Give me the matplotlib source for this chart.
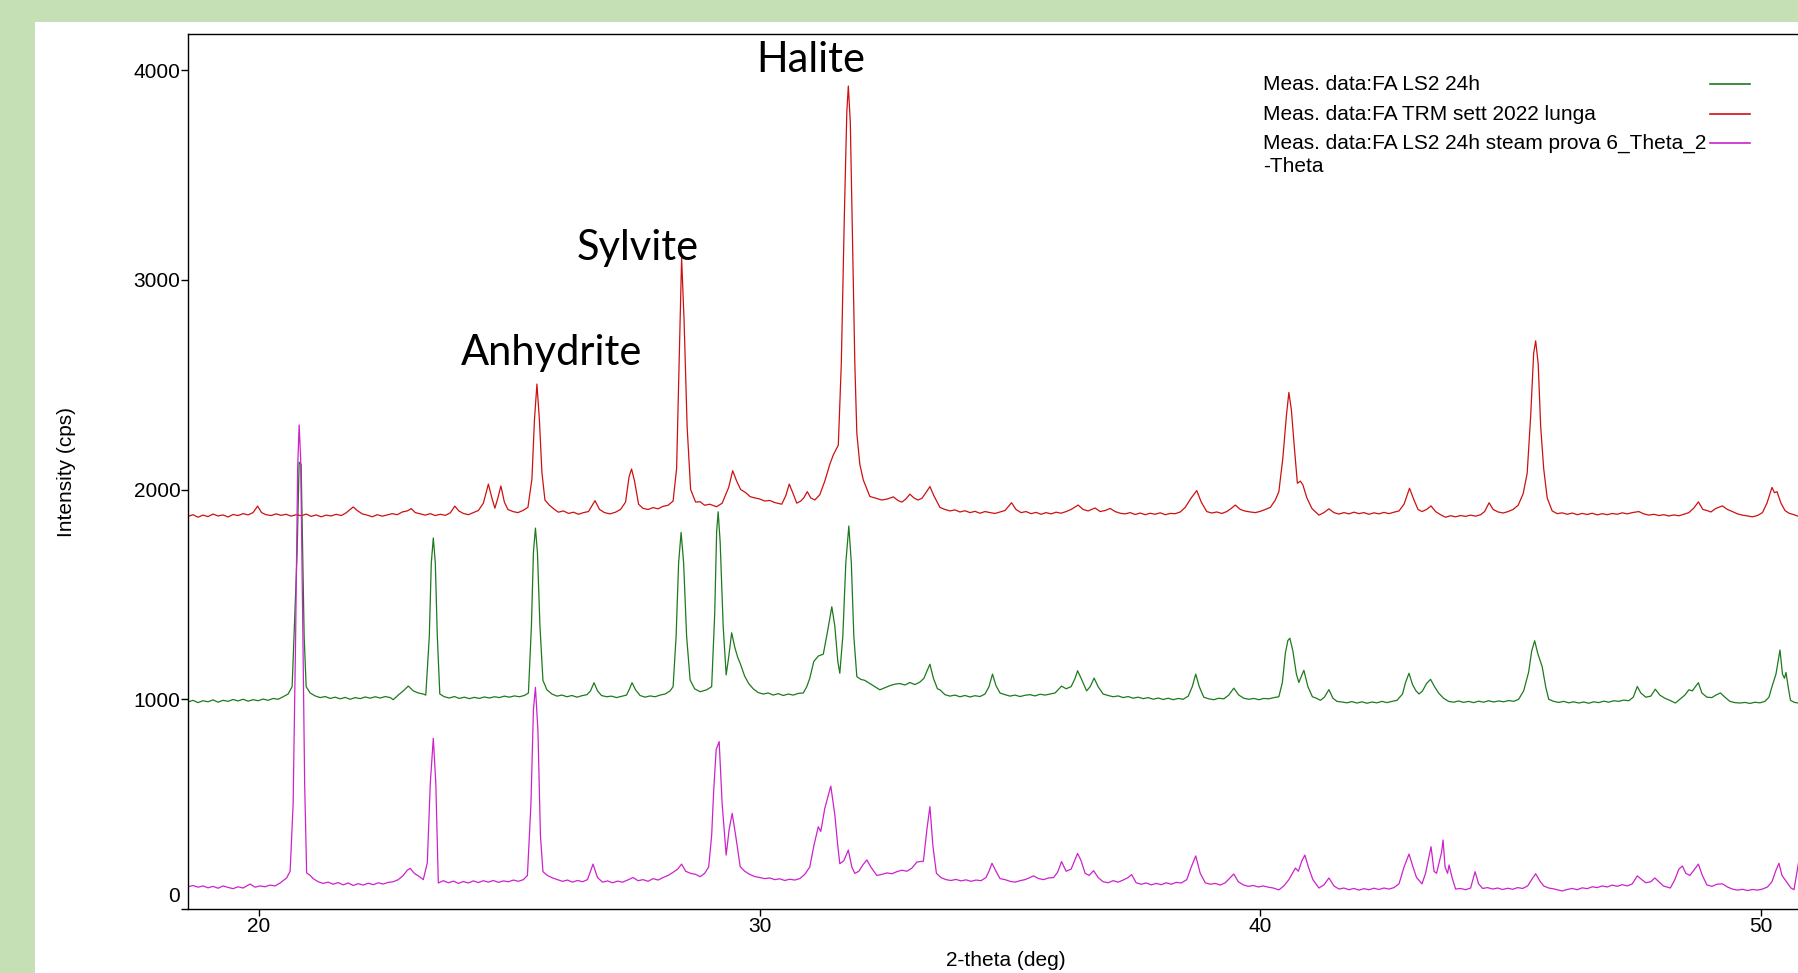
import matplotlib.pyplot as plt
import numpy as np
from matplotlib.patches import Rectangle
from matplotlib.lines import Line2D

plt.rcParams['font.family'] = ['Liberation Sans', 'DejaVu Sans']

# (2-theta deg, intensity cps)
red_pts = [
    (18.58, 1872), (18.68, 1880), (18.78, 1868), (18.88, 1878), (18.98, 1871), (19.08, 1883), (19.18, 1874),
    (19.28, 1879), (19.38, 1869), (19.48, 1881), (19.58, 1876), (19.68, 1885), (19.78, 1879), (19.88, 1890),
    (19.97, 1921), (20.05, 1890), (20.14, 1880), (20.24, 1876), (20.34, 1884), (20.44, 1877), (20.54, 1882),
    (20.64, 1873), (20.74, 1880), (20.84, 1875), (20.94, 1883), (21.04, 1872), (21.14, 1879), (21.24, 1870),
    (21.34, 1878), (21.44, 1874), (21.54, 1882), (21.64, 1876), (21.74, 1889), (21.88, 1917), (21.96, 1900),
    (22.06, 1884), (22.16, 1878), (22.26, 1870), (22.36, 1880), (22.46, 1873), (22.56, 1879), (22.66, 1885),
    (22.76, 1880), (22.86, 1893), (22.96, 1898), (23.04, 1909), (23.12, 1890), (23.22, 1884), (23.32, 1878),
    (23.42, 1885), (23.52, 1876), (23.62, 1882), (23.72, 1877), (23.82, 1889), (23.91, 1921), (23.99, 1898),
    (24.08, 1886), (24.18, 1880), (24.28, 1890), (24.38, 1900), (24.48, 1935), (24.58, 2026), (24.65, 1960),
    (24.71, 1911), (24.77, 1960), (24.83, 2017), (24.90, 1940), (24.97, 1905), (25.07, 1895), (25.17, 1890),
    (25.27, 1900), (25.37, 1915), (25.45, 2050), (25.50, 2330), (25.55, 2503), (25.60, 2330), (25.65, 2080),
    (25.71, 1950), (25.80, 1925), (25.90, 1905), (25.98, 1892), (26.08, 1898), (26.18, 1886), (26.28, 1892),
    (26.38, 1882), (26.48, 1890), (26.58, 1895), (26.71, 1947), (26.80, 1905), (26.90, 1890), (27.01, 1884),
    (27.12, 1892), (27.22, 1905), (27.32, 1940), (27.39, 2060), (27.44, 2098), (27.50, 2040), (27.58, 1930),
    (27.67, 1910), (27.77, 1905), (27.87, 1914), (27.97, 1908), (28.07, 1920), (28.17, 1925), (28.27, 1945),
    (28.34, 2100), (28.40, 2700), (28.44, 3104), (28.49, 2800), (28.55, 2300), (28.62, 2000), (28.72, 1940),
    (28.81, 1942), (28.90, 1925), (29.00, 1930), (29.14, 1918), (29.25, 1935), (29.38, 2010), (29.46, 2090),
    (29.54, 2040), (29.62, 2000), (29.72, 1985), (29.81, 1966), (29.90, 1960), (30.00, 1955), (30.10, 1945),
    (30.20, 1948), (30.30, 1938), (30.44, 1930), (30.52, 1970), (30.59, 2026), (30.66, 1985), (30.74, 1935),
    (30.82, 1945), (30.88, 1960), (30.95, 1990), (31.02, 1960), (31.10, 1950), (31.20, 1975), (31.30, 2040),
    (31.40, 2120), (31.47, 2165), (31.57, 2212), (31.63, 2600), (31.69, 3300), (31.74, 3800), (31.77, 3924),
    (31.81, 3750), (31.86, 3100), (31.90, 2600), (31.94, 2268), (32.00, 2120), (32.07, 2045), (32.20, 1967),
    (32.30, 1960), (32.44, 1950), (32.55, 1955), (32.67, 1965), (32.76, 1948), (32.84, 1940), (32.92, 1955),
    (33.00, 1978), (33.08, 1960), (33.16, 1950), (33.24, 1958), (33.32, 1985), (33.40, 2014), (33.48, 1970),
    (33.60, 1915), (33.70, 1905), (33.80, 1898), (33.90, 1903), (34.00, 1893), (34.10, 1899), (34.20, 1890),
    (34.30, 1896), (34.40, 1887), (34.50, 1895), (34.60, 1890), (34.70, 1886), (34.80, 1893), (34.90, 1900),
    (35.03, 1937), (35.12, 1905), (35.22, 1890), (35.32, 1895), (35.42, 1885), (35.52, 1891), (35.62, 1882),
    (35.72, 1890), (35.82, 1884), (35.92, 1892), (36.02, 1887), (36.12, 1895), (36.22, 1905), (36.36, 1926),
    (36.46, 1905), (36.56, 1898), (36.70, 1912), (36.80, 1895), (36.90, 1900), (37.00, 1910), (37.10, 1895),
    (37.20, 1887), (37.30, 1884), (37.40, 1890), (37.50, 1881), (37.60, 1888), (37.70, 1880), (37.80, 1887),
    (37.90, 1882), (38.00, 1889), (38.10, 1880), (38.20, 1886), (38.30, 1885), (38.40, 1893), (38.50, 1915),
    (38.62, 1960), (38.73, 1995), (38.82, 1940), (38.93, 1895), (39.03, 1888), (39.13, 1893), (39.23, 1886),
    (39.33, 1895), (39.42, 1910), (39.50, 1926), (39.60, 1905), (39.70, 1897), (39.80, 1893), (39.90, 1890),
    (40.00, 1896), (40.10, 1905), (40.20, 1915), (40.30, 1950), (40.37, 1990), (40.45, 2150), (40.52, 2350),
    (40.57, 2463), (40.62, 2380), (40.68, 2200), (40.74, 2030), (40.80, 2040), (40.85, 2022), (40.93, 1960),
    (41.03, 1910), (41.17, 1878), (41.27, 1890), (41.37, 1908), (41.47, 1890), (41.57, 1883), (41.67, 1890),
    (41.77, 1884), (41.87, 1892), (41.97, 1885), (42.07, 1890), (42.17, 1882), (42.27, 1889), (42.37, 1884),
    (42.47, 1891), (42.57, 1885), (42.67, 1892), (42.77, 1898), (42.87, 1930), (42.98, 2006), (43.07, 1950),
    (43.15, 1905), (43.23, 1895), (43.32, 1905), (43.41, 1922), (43.50, 1895), (43.60, 1880), (43.70, 1868),
    (43.80, 1875), (43.90, 1870), (44.00, 1876), (44.10, 1872), (44.20, 1878), (44.30, 1873), (44.40, 1880),
    (44.48, 1895), (44.57, 1937), (44.65, 1905), (44.75, 1893), (44.85, 1888), (44.95, 1895), (45.05, 1905),
    (45.15, 1925), (45.25, 1980), (45.33, 2077), (45.40, 2350), (45.46, 2650), (45.50, 2709), (45.55, 2600),
    (45.60, 2300), (45.66, 2100), (45.73, 1960), (45.83, 1898), (45.93, 1885), (46.03, 1889), (46.13, 1882),
    (46.23, 1888), (46.33, 1880), (46.43, 1886), (46.53, 1881), (46.63, 1887), (46.73, 1879), (46.83, 1885),
    (46.93, 1880), (47.03, 1886), (47.13, 1882), (47.23, 1889), (47.33, 1884), (47.43, 1890), (47.56, 1895),
    (47.66, 1884), (47.76, 1878), (47.86, 1882), (47.96, 1876), (48.06, 1880), (48.16, 1874), (48.26, 1879),
    (48.36, 1875), (48.46, 1882), (48.56, 1890), (48.66, 1912), (48.75, 1941), (48.84, 1905), (48.92, 1900),
    (49.00, 1893), (49.10, 1910), (49.23, 1922), (49.33, 1905), (49.43, 1895), (49.53, 1884), (49.63, 1878),
    (49.73, 1874), (49.83, 1870), (49.93, 1876), (50.03, 1890), (50.12, 1935), (50.22, 2010), (50.27, 1985),
    (50.32, 1990), (50.40, 1935), (50.48, 1900), (50.56, 1887), (50.66, 1880), (50.75, 1872),
]

green_pts = [
    (18.58, 987), (18.68, 995), (18.78, 984), (18.88, 993), (18.98, 988), (19.08, 997), (19.18, 986),
    (19.28, 995), (19.38, 990), (19.48, 999), (19.58, 992), (19.68, 1000), (19.78, 991), (19.88, 998),
    (19.98, 993), (20.08, 1001), (20.18, 995), (20.28, 1004), (20.38, 1000), (20.48, 1012), (20.58, 1025),
    (20.66, 1060), (20.72, 1440), (20.76, 1700), (20.80, 2130), (20.84, 2120), (20.87, 1700), (20.90, 1300),
    (20.94, 1060), (21.02, 1030), (21.12, 1016), (21.22, 1008), (21.32, 1013), (21.42, 1004), (21.52, 1010),
    (21.62, 1002), (21.72, 1009), (21.82, 1000), (21.92, 1008), (22.02, 1003), (22.12, 1011), (22.22, 1005),
    (22.32, 1012), (22.42, 1006), (22.52, 1013), (22.62, 1008), (22.68, 998), (22.78, 1020), (22.88, 1040),
    (22.98, 1063), (23.08, 1040), (23.18, 1030), (23.28, 1025), (23.33, 1020), (23.40, 1300), (23.44, 1650),
    (23.48, 1769), (23.52, 1650), (23.56, 1300), (23.61, 1025), (23.70, 1012), (23.80, 1006), (23.90, 1013),
    (24.00, 1004), (24.10, 1010), (24.20, 1003), (24.30, 1009), (24.40, 1004), (24.50, 1011), (24.60, 1006),
    (24.70, 1012), (24.80, 1008), (24.90, 1015), (25.00, 1010), (25.10, 1016), (25.20, 1012), (25.30, 1018),
    (25.38, 1030), (25.44, 1350), (25.48, 1700), (25.52, 1816), (25.56, 1700), (25.61, 1350), (25.67, 1090),
    (25.75, 1045), (25.85, 1025), (25.95, 1015), (26.05, 1020), (26.15, 1012), (26.25, 1018), (26.35, 1010),
    (26.45, 1017), (26.55, 1022), (26.62, 1040), (26.69, 1079), (26.76, 1040), (26.84, 1018), (26.94, 1012),
    (27.04, 1015), (27.14, 1008), (27.24, 1014), (27.34, 1020), (27.40, 1050), (27.45, 1079), (27.52, 1045),
    (27.61, 1018), (27.71, 1010), (27.81, 1016), (27.91, 1012), (28.01, 1020), (28.11, 1025), (28.21, 1040),
    (28.27, 1060), (28.33, 1300), (28.38, 1650), (28.43, 1796), (28.48, 1650), (28.54, 1300), (28.61, 1092),
    (28.70, 1050), (28.81, 1036), (28.94, 1045), (29.04, 1060), (29.10, 1400), (29.14, 1800), (29.17, 1894),
    (29.21, 1750), (29.27, 1350), (29.33, 1116), (29.38, 1200), (29.44, 1317), (29.50, 1250), (29.56, 1200),
    (29.61, 1171), (29.70, 1110), (29.78, 1075), (29.87, 1050), (29.97, 1032), (30.07, 1025), (30.17, 1030),
    (30.27, 1020), (30.37, 1027), (30.47, 1018), (30.57, 1025), (30.67, 1020), (30.77, 1028), (30.87, 1030),
    (30.94, 1060), (31.00, 1100), (31.08, 1180), (31.17, 1206), (31.27, 1215), (31.36, 1330), (31.44, 1441),
    (31.50, 1350), (31.56, 1180), (31.60, 1124), (31.66, 1300), (31.72, 1650), (31.78, 1826), (31.83, 1650),
    (31.88, 1300), (31.94, 1108), (32.02, 1095), (32.10, 1090), (32.20, 1075), (32.30, 1060), (32.40, 1045),
    (32.50, 1055), (32.60, 1065), (32.70, 1072), (32.80, 1075), (32.90, 1068), (33.00, 1080), (33.10, 1070),
    (33.20, 1082), (33.28, 1100), (33.35, 1140), (33.40, 1167), (33.47, 1100), (33.55, 1050), (33.60, 1045),
    (33.70, 1022), (33.80, 1015), (33.90, 1020), (34.00, 1012), (34.10, 1018), (34.20, 1011), (34.30, 1017),
    (34.40, 1013), (34.50, 1025), (34.58, 1060), (34.65, 1120), (34.72, 1065), (34.80, 1030), (34.90, 1022),
    (35.00, 1015), (35.10, 1020), (35.20, 1013), (35.30, 1019), (35.40, 1022), (35.50, 1016), (35.60, 1024),
    (35.70, 1020), (35.80, 1025), (35.90, 1030), (36.03, 1063), (36.12, 1050), (36.22, 1060), (36.30, 1100),
    (36.35, 1136), (36.42, 1100), (36.53, 1040), (36.60, 1060), (36.68, 1101), (36.76, 1060), (36.86, 1025),
    (36.96, 1018), (37.06, 1012), (37.16, 1016), (37.26, 1008), (37.36, 1013), (37.46, 1005), (37.56, 1010),
    (37.66, 1003), (37.76, 1008), (37.86, 1000), (37.96, 1006), (38.06, 999), (38.16, 1005), (38.26, 998),
    (38.36, 1004), (38.46, 1000), (38.56, 1015), (38.64, 1060), (38.71, 1120), (38.78, 1060), (38.87, 1010),
    (38.97, 1002), (39.07, 998), (39.17, 1005), (39.27, 1002), (39.37, 1020), (39.47, 1053), (39.57, 1020),
    (39.67, 1005), (39.77, 1000), (39.87, 1004), (39.97, 998), (40.07, 1004), (40.17, 1002), (40.27, 1008),
    (40.37, 1012), (40.44, 1080), (40.50, 1220), (40.55, 1280), (40.59, 1291), (40.65, 1230), (40.72, 1120),
    (40.77, 1080), (40.82, 1110), (40.87, 1138), (40.95, 1060), (41.04, 1012), (41.12, 1005), (41.20, 995),
    (41.28, 1010), (41.37, 1046), (41.45, 1005), (41.53, 990), (41.63, 987), (41.73, 983), (41.83, 989),
    (41.93, 982), (42.03, 988), (42.13, 981), (42.23, 987), (42.33, 983), (42.43, 990), (42.53, 984),
    (42.63, 990), (42.73, 995), (42.84, 1025), (42.90, 1080), (42.97, 1124), (43.04, 1070), (43.11, 1040),
    (43.17, 1025), (43.24, 1040), (43.32, 1075), (43.40, 1095), (43.48, 1060), (43.56, 1030), (43.66, 1005),
    (43.76, 990), (43.86, 986), (43.96, 992), (44.06, 985), (44.16, 990), (44.26, 984), (44.36, 991),
    (44.46, 986), (44.56, 993), (44.66, 987), (44.76, 992), (44.86, 988), (44.96, 994), (45.06, 990),
    (45.16, 1000), (45.26, 1040), (45.36, 1130), (45.42, 1230), (45.48, 1279), (45.54, 1220), (45.63, 1155),
    (45.70, 1060), (45.76, 1000), (45.86, 990), (45.96, 985), (46.06, 990), (46.16, 983), (46.26, 988),
    (46.36, 982), (46.46, 987), (46.56, 981), (46.66, 988), (46.76, 984), (46.86, 991), (46.96, 986),
    (47.06, 993), (47.16, 990), (47.26, 996), (47.36, 993), (47.45, 1010), (47.53, 1061), (47.60, 1030),
    (47.70, 1010), (47.80, 1015), (47.89, 1048), (47.98, 1020), (48.08, 1005), (48.18, 995), (48.29, 982),
    (48.38, 1000), (48.48, 1020), (48.56, 1045), (48.63, 1040), (48.69, 1060), (48.75, 1079), (48.82, 1030),
    (48.92, 1010), (49.02, 1008), (49.10, 1020), (49.19, 1030), (49.28, 1010), (49.38, 990), (49.48, 984),
    (49.58, 982), (49.68, 985), (49.78, 980), (49.88, 986), (49.98, 983), (50.08, 990), (50.16, 1010),
    (50.22, 1060), (50.30, 1120), (50.38, 1235), (50.43, 1120), (50.47, 1100), (50.50, 1128), (50.55, 1050),
    (50.59, 995), (50.67, 985), (50.75, 982),
]

magenta_pts = [
    (18.58, 106), (18.68, 112), (18.78, 104), (18.88, 110), (18.98, 101), (19.08, 108), (19.18, 99),
    (19.28, 110), (19.38, 103), (19.48, 97), (19.58, 106), (19.68, 100), (19.82, 119), (19.92, 104),
    (20.02, 110), (20.12, 106), (20.22, 114), (20.32, 110), (20.42, 124), (20.55, 148), (20.62, 180),
    (20.68, 500), (20.73, 1300), (20.77, 2100), (20.80, 2308), (20.83, 2150), (20.87, 1400), (20.91, 600),
    (20.95, 172), (21.02, 160), (21.08, 145), (21.18, 130), (21.28, 122), (21.38, 128), (21.48, 118),
    (21.58, 126), (21.68, 115), (21.78, 124), (21.88, 112), (21.98, 121), (22.08, 114), (22.18, 123),
    (22.28, 116), (22.38, 125), (22.48, 119), (22.58, 127), (22.68, 130), (22.78, 140), (22.88, 160),
    (22.96, 185), (23.02, 194), (23.10, 170), (23.20, 155), (23.28, 140), (23.36, 220), (23.42, 600),
    (23.48, 814), (23.53, 600), (23.58, 124), (23.68, 135), (23.78, 125), (23.88, 133), (23.98, 122),
    (24.08, 131), (24.18, 124), (24.28, 134), (24.38, 126), (24.48, 135), (24.58, 128), (24.68, 136),
    (24.78, 127), (24.88, 134), (24.98, 130), (25.08, 138), (25.18, 132), (25.28, 140), (25.36, 160),
    (25.43, 500), (25.48, 950), (25.52, 1057), (25.57, 850), (25.62, 350), (25.67, 178), (25.76, 160),
    (25.86, 148), (25.96, 140), (26.06, 132), (26.16, 138), (26.26, 128), (26.36, 136), (26.46, 130),
    (26.56, 140), (26.67, 214), (26.76, 150), (26.86, 128), (26.96, 134), (27.06, 125), (27.16, 133),
    (27.26, 128), (27.36, 138), (27.47, 150), (27.57, 135), (27.67, 140), (27.77, 132), (27.87, 145),
    (27.97, 138), (28.07, 150), (28.17, 160), (28.27, 175), (28.36, 190), (28.44, 214), (28.52, 180),
    (28.62, 170), (28.72, 165), (28.81, 154), (28.90, 170), (28.98, 200), (29.04, 350), (29.08, 560),
    (29.13, 760), (29.19, 798), (29.25, 500), (29.33, 257), (29.39, 380), (29.45, 456), (29.52, 350),
    (29.61, 202), (29.70, 180), (29.80, 165), (29.90, 155), (30.00, 150), (30.10, 145), (30.20, 148),
    (30.30, 140), (30.40, 144), (30.50, 136), (30.60, 142), (30.70, 138), (30.80, 145), (30.90, 165),
    (31.00, 200), (31.08, 300), (31.17, 392), (31.22, 370), (31.30, 480), (31.42, 586), (31.50, 450),
    (31.56, 300), (31.60, 216), (31.68, 230), (31.77, 281), (31.84, 200), (31.90, 170), (31.98, 180),
    (32.06, 210), (32.14, 234), (32.22, 200), (32.34, 160), (32.44, 165), (32.54, 172), (32.64, 168),
    (32.74, 178), (32.84, 185), (32.94, 180), (33.04, 195), (33.14, 224), (33.27, 228), (33.34, 380),
    (33.40, 488), (33.46, 300), (33.53, 170), (33.62, 150), (33.72, 140), (33.82, 136), (33.92, 141),
    (34.02, 134), (34.12, 139), (34.22, 132), (34.32, 138), (34.42, 135), (34.52, 150), (34.58, 180),
    (34.64, 218), (34.72, 180), (34.80, 145), (34.90, 140), (35.00, 132), (35.10, 128), (35.20, 135),
    (35.30, 140), (35.40, 150), (35.47, 158), (35.57, 145), (35.67, 140), (35.77, 148), (35.87, 150),
    (35.95, 175), (36.03, 226), (36.12, 180), (36.22, 190), (36.29, 230), (36.35, 265), (36.42, 230),
    (36.50, 170), (36.58, 160), (36.67, 183), (36.76, 150), (36.86, 130), (36.96, 125), (37.06, 135),
    (37.16, 128), (37.26, 138), (37.36, 150), (37.43, 164), (37.52, 125), (37.62, 118), (37.72, 124),
    (37.82, 115), (37.92, 122), (38.02, 116), (38.12, 125), (38.22, 118), (38.32, 127), (38.42, 124),
    (38.53, 140), (38.62, 200), (38.71, 253), (38.80, 170), (38.90, 125), (39.00, 118), (39.10, 122),
    (39.20, 114), (39.30, 125), (39.38, 145), (39.47, 167), (39.56, 130), (39.66, 115), (39.76, 108),
    (39.86, 112), (39.96, 105), (40.06, 110), (40.16, 104), (40.26, 100), (40.37, 91), (40.47, 110),
    (40.57, 140), (40.64, 170), (40.70, 195), (40.76, 180), (40.83, 230), (40.89, 257), (40.96, 200),
    (41.05, 140), (41.17, 100), (41.27, 115), (41.37, 148), (41.47, 110), (41.57, 95), (41.67, 100),
    (41.77, 92), (41.87, 98), (41.97, 90), (42.07, 97), (42.17, 92), (42.27, 99), (42.37, 93),
    (42.47, 100), (42.57, 95), (42.67, 102), (42.77, 120), (42.87, 200), (42.97, 262), (43.05, 200),
    (43.12, 150), (43.23, 120), (43.30, 170), (43.36, 240), (43.41, 297), (43.47, 180), (43.52, 170),
    (43.57, 220), (43.62, 270), (43.65, 329), (43.69, 200), (43.74, 170), (43.77, 210), (43.83, 150),
    (43.90, 95), (44.00, 98), (44.10, 92), (44.20, 100), (44.29, 178), (44.36, 120), (44.44, 98),
    (44.54, 102), (44.64, 95), (44.74, 100), (44.84, 93), (44.94, 99), (45.04, 94), (45.14, 102),
    (45.24, 98), (45.34, 110), (45.42, 140), (45.50, 168), (45.58, 135), (45.66, 110), (45.76, 100),
    (45.86, 96), (45.96, 90), (46.03, 86), (46.13, 93), (46.23, 98), (46.33, 92), (46.43, 101),
    (46.53, 97), (46.63, 106), (46.73, 102), (46.83, 110), (46.93, 105), (47.03, 114), (47.13, 108),
    (47.23, 116), (47.33, 110), (47.43, 120), (47.53, 158), (47.62, 140), (47.70, 125), (47.80, 130),
    (47.88, 148), (47.96, 130), (48.05, 110), (48.19, 100), (48.28, 140), (48.36, 190), (48.43, 205),
    (48.50, 170), (48.58, 160), (48.66, 185), (48.75, 214), (48.83, 160), (48.92, 115), (49.02, 108),
    (49.12, 118), (49.23, 120), (49.33, 105), (49.43, 95), (49.53, 90), (49.63, 94), (49.73, 88),
    (49.83, 93), (49.93, 90), (50.03, 95), (50.13, 105), (50.22, 130), (50.30, 185), (50.36, 218),
    (50.42, 160), (50.48, 140), (50.54, 120), (50.60, 100), (50.66, 92), (50.70, 150), (50.75, 220),
]

series_labels = [
    'Meas. data:FA LS2 24h',
    'Meas. data:FA TRM sett 2022 lunga',
    'Meas. data:FA LS2 24h steam prova 6_Theta_2\n-Theta',
]
series_colors = ['#1d7a1d', '#cc1111', '#cc22cc']

phase_names = ['Halite', 'Sylvite', 'Anhydrite']
y_ticks = [0, 1000, 2000, 3000, 4000]
x_ticks = [20, 30, 40, 50]

W, H = 1799, 973
fig = plt.figure(figsize=(W / 100, H / 100), dpi=100)
fig.patch.set_facecolor('#c5e0b4')
fig.add_artist(Rectangle((35 / W, 0), 1, 1 - 22 / H, transform=fig.transFigure,
                         facecolor='white', edgecolor='none', zorder=-5))

ax = fig.add_axes([188 / W, 1 - 909 / H, 1 - 188 / W, (909 - 34) / H])
ax.set_facecolor('white')

for pts, c in zip([green_pts, red_pts, magenta_pts], series_colors):
    xy = np.array(pts, dtype=float)
    ax.plot(xy[:, 0], xy[:, 1], color=c, lw=0.9)

ax.set_xlim(18.58, 50.76)
ax.set_ylim(0, 4172)
ax.set_xticks(x_ticks)
ax.set_yticks(y_ticks)
ax.set_yticklabels([''] + [str(v) for v in y_ticks[1:]])
ax.spines['right'].set_visible(False)
for s in ['left', 'top', 'bottom']:
    ax.spines[s].set_linewidth(1.0)
ax.tick_params(axis='both', direction='out', length=5, width=1.0, labelsize=15, color='black')
ax.tick_params(axis='y', pad=0.5)
ax.tick_params(axis='x', pad=1)
# the zero label sits a bit above its tick in the original
ax.annotate('0', xy=(0, 0), xycoords=('axes fraction', 'data'), xytext=(-8, 12),
            textcoords='offset pixels', ha='right', va='center', fontsize=15)

fig.text(67 / W, 1 - 472 / H, 'Intensity (cps)', rotation=90, ha='center', va='center', fontsize=15)
fig.text(1006 / W, 1 - 960 / H, '2-theta (deg)', ha='center', va='center', fontsize=15)

# phase labels
phase_pos = [(811, 72), (638, 260), (552, 365)]
for name, (px, py) in zip(phase_names, phase_pos):
    fig.text(px / W, 1 - py / H, name, ha='center', va='baseline', fontsize=30, family='Lato')

# legend: text left, line sample right
rows = [84, 114, 143]
for lab, c, ry in zip(series_labels, series_colors, rows):
    parts = lab.split('\n')
    fig.text(1263 / W, 1 - ry / H, parts[0], ha='left', va='center', fontsize=15)
    if len(parts) > 1:
        fig.text(1263 / W, 1 - (ry + 23) / H, parts[1], ha='left', va='center', fontsize=15)
    fig.add_artist(Line2D([1710 / W, 1750 / W], [1 - ry / H, 1 - ry / H],
                          transform=fig.transFigure, color=c, lw=1.2))

fig.savefig('out.png', dpi=100, facecolor=fig.get_facecolor())
